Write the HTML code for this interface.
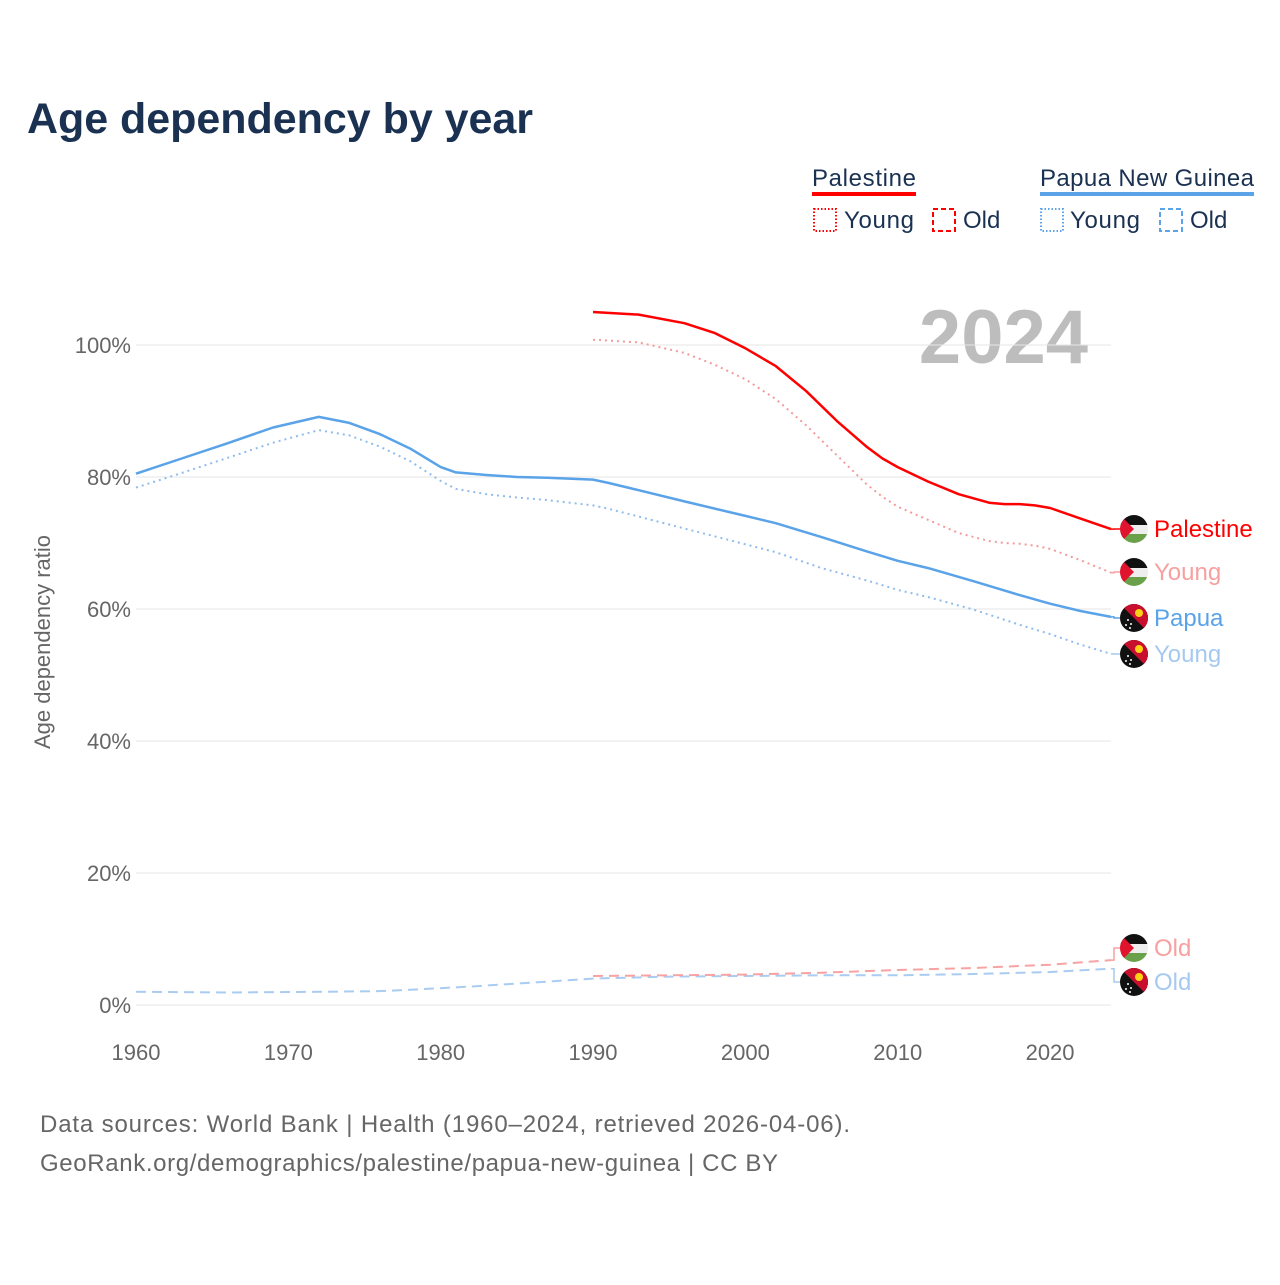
<!DOCTYPE html>
<html><head><meta charset="utf-8">
<style>
body{margin:0;background:#fff;font-family:"Liberation Sans",sans-serif;}
svg text{font-family:"Liberation Sans",sans-serif;}
</style></head>
<body>
<svg width="1280" height="1280" viewBox="0 0 1280 1280" xmlns="http://www.w3.org/2000/svg">
<defs>
<clipPath id="c"><circle cx="0" cy="0" r="14"/></clipPath>
<g id="pse">
<g clip-path="url(#c)">
<rect x="-14" y="-14" width="28" height="10" fill="#111"/>
<rect x="-14" y="-4" width="28" height="9" fill="#eee"/>
<rect x="-14" y="5" width="28" height="10" fill="#6aa04a"/>
<polygon points="-14,-14 0,0 -14,14" fill="#e0142d"/>
</g></g>
<g id="png">
<g clip-path="url(#c)">
<rect x="-14" y="-14" width="28" height="28" fill="#111"/>
<polygon points="-14,-14 14,-14 14,14" fill="#c8102e"/>
<circle cx="5" cy="-5" r="4" fill="#fcd116"/>
<circle cx="-6" cy="2" r="1" fill="#fff"/><circle cx="-3" cy="6" r="1" fill="#fff"/><circle cx="-8" cy="7" r="1" fill="#fff"/><circle cx="-4" cy="10" r="1" fill="#fff"/>
</g></g>
</defs>
<text x="27" y="133" font-size="43" font-weight="bold" fill="#1a3152" textLength="506">Age dependency by year</text>

<g>
<text x="812" y="186" font-size="24" fill="#1a3152" textLength="104">Palestine</text>
<rect x="812" y="192" width="104" height="4" fill="#f00"/>
<rect x="814" y="209" width="22" height="22" fill="none" stroke="#f00" stroke-width="2" stroke-dasharray="1.5,2"/>
<text x="844" y="228" font-size="24" fill="#1a3152" textLength="70">Young</text>
<rect x="933" y="209" width="22" height="22" fill="none" stroke="#f00" stroke-width="2" stroke-dasharray="5,3"/>
<text x="963" y="228" font-size="24" fill="#1a3152">Old</text>
<text x="1040" y="186" font-size="24" fill="#1a3152" textLength="214">Papua New Guinea</text>
<rect x="1040" y="192" width="214" height="4" fill="#5aa3e8"/>
<rect x="1041" y="209" width="22" height="22" fill="none" stroke="#5aa3e8" stroke-width="2" stroke-dasharray="1.5,2"/>
<text x="1070" y="228" font-size="24" fill="#1a3152" textLength="70">Young</text>
<rect x="1160" y="209" width="22" height="22" fill="none" stroke="#5aa3e8" stroke-width="2" stroke-dasharray="5,3"/>
<text x="1190" y="228" font-size="24" fill="#1a3152">Old</text>
</g>

<text x="1088" y="363" font-size="76" font-weight="bold" fill="#bdbdbd" text-anchor="end">2024</text>
<text transform="translate(50,642) rotate(-90)" font-size="22" fill="#666" text-anchor="middle">Age dependency ratio</text>

<g id="grid"></g>
<g id="series"></g>
<g id="ends"></g>

<text x="40" y="1132" font-size="24" fill="#666" textLength="810">Data sources: World Bank | Health (1960–2024, retrieved 2026-04-06).</text>
<text x="40" y="1171" font-size="24" fill="#666" textLength="738">GeoRank.org/demographics/palestine/papua-new-guinea | CC BY</text>
</svg>
<script>
const yTicks=[0,20,40,60,80,100];
const xTicks=[1960,1970,1980,1990,2000,2010,2020];
const pngYears=[1960,1963,1966,1969,1972,1974,1976,1978,1980,1981,1983,1985,1987,1990,1991,1993,1996,2000,2002,2005,2008,2010,2012,2015,2018,2020,2022,2024];
const pngTotal=[80.5,82.8,85.1,87.5,89.1,88.2,86.5,84.3,81.5,80.7,80.3,80.0,79.9,79.6,79.1,78.0,76.3,74.1,73.0,70.9,68.7,67.3,66.2,64.2,62.1,60.8,59.7,58.8];
const pngYoung=[78.4,80.6,82.9,85.2,87.1,86.3,84.6,82.4,79.4,78.2,77.4,76.9,76.5,75.7,75.2,74.0,72.2,69.8,68.6,66.2,64.3,62.9,61.8,59.9,57.6,56.2,54.6,53.2];
const pngOldYears=[1960,1966,1972,1976,1978,1982,1986,1990,1995,2000,2005,2010,2015,2020,2024];
const pngOld=[2.0,1.9,2.0,2.1,2.3,2.8,3.4,4.0,4.3,4.4,4.5,4.5,4.7,5.0,5.5];
const palYears=[1990,1993,1996,1998,2000,2002,2004,2006,2008,2009,2010,2012,2014,2016,2017,2018,2019,2020,2022,2024];
const palTotal=[105.0,104.6,103.3,101.8,99.5,96.8,93.0,88.5,84.5,82.8,81.5,79.3,77.4,76.1,75.9,75.9,75.7,75.3,73.7,72.1];
const palYoung=[100.8,100.4,98.8,97.0,94.8,91.8,87.8,83.3,78.8,77.0,75.5,73.5,71.5,70.3,70.0,69.9,69.6,69.1,67.4,65.5];
const palOldYears=[1990,1995,2000,2005,2010,2015,2020,2024];
const palOld=[4.4,4.5,4.6,4.9,5.3,5.6,6.1,6.8];

const NS="http://www.w3.org/2000/svg";
const X=y=>136+(y-1960)*(1111-136)/64;
const Y=v=>1005-v*6.6;
function mk(t,a,p){const e=document.createElementNS(NS,t);for(const k in a)e.setAttribute(k,a[k]);p.appendChild(e);return e;}
const grid=document.getElementById('grid');
yTicks.forEach(v=>{
  const l=mk('line',{x1:136,x2:1111,y1:Y(v),y2:Y(v),stroke:'#e6e6e6','stroke-width':1},grid);
  
  
  const t=mk('text',{x:131,y:Y(v)+8,'font-size':22,fill:'#666','text-anchor':'end'},grid);
  t.textContent=v+'%';
  
  
});
xTicks.forEach(v=>{
  const t=mk('text',{x:X(v),y:1060,'font-size':22,fill:'#666','text-anchor':'middle'},grid);
  t.textContent=v;
  
  
});
const ser=document.getElementById('series');
function line(xs,vs,col,dash,w,name){
  const d=xs.map((x,i)=>(i?'L':'M')+X(x).toFixed(1)+','+Y(vs[i]).toFixed(1)).join('');
  const p=mk('path',{d:d,fill:'none',stroke:col,'stroke-width':w,'stroke-dasharray':dash,'stroke-linejoin':'round'},ser);
  
  
}
line(pngOldYears,pngOld,'#a9ccf2','10,6',2,'line-png-old');
line(palOldYears,palOld,'#f7a3a3','10,6',2,'line-palestine-old');
line(pngYears,pngYoung,'#8fbcee','2,4',2,'line-png-young');
line(palYears,palYoung,'#f49a9a','2,4',2,'line-palestine-young');
line(pngYears,pngTotal,'#5aa3e8','',2.5,'line-png-total');
line(palYears,palTotal,'#f00','',2.5,'line-palestine-total');

const ends=document.getElementById('ends');
const labels=[
 {v:palTotal[palTotal.length-1],y:529,flag:'pse',txt:'Palestine',col:'#f00',n:'end-label-palestine'},
 {v:palYoung[palYoung.length-1],y:572,flag:'pse',txt:'Young',col:'#f7a0a0',n:'end-label-palestine-young'},
 {v:pngTotal[pngTotal.length-1],y:618,flag:'png',txt:'Papua',col:'#5aa3e8',n:'end-label-png'},
 {v:pngYoung[pngYoung.length-1],y:654,flag:'png',txt:'Young',col:'#a6c9f0',n:'end-label-png-young'},
 {v:palOld[palOld.length-1],y:948,flag:'pse',txt:'Old',col:'#f7a0a0',n:'end-label-palestine-old'},
 {v:pngOld[pngOld.length-1],y:982,flag:'png',txt:'Old',col:'#a6c9f0',n:'end-label-png-old'}
];
labels.forEach(o=>{
  mk('path',{d:'M1111,'+Y(o.v)+' L1114,'+Y(o.v)+' L1114,'+o.y+' L1120,'+o.y,fill:'none',stroke:o.col,'stroke-width':1.5},ends);
  const u=mk('use',{href:'#'+o.flag,x:1134,y:o.y},ends);
  
  
  const t=mk('text',{x:1154,y:o.y+8,'font-size':24,fill:o.col},ends);
  t.textContent=o.txt;
  
  
});
</script>
</body></html>
